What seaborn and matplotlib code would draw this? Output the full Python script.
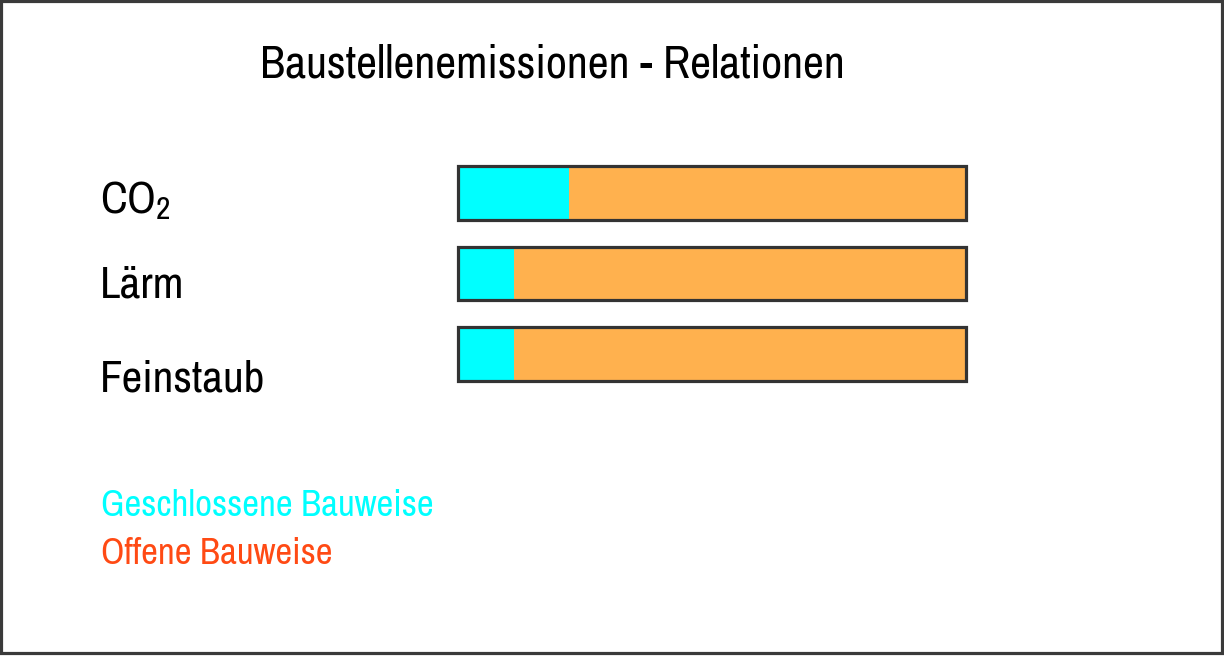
import matplotlib
matplotlib.use("Agg")
import matplotlib.pyplot as plt
from matplotlib.patches import Rectangle
import seaborn as sns
import pandas as pd

# ---- data ----
categories = ["CO2", "Lärm", "Feinstaub"]
label_texts = ["CO$_2$", "Lärm", "Feinstaub"]
geschlossen = [22, 11, 11]   # share of closed construction (%)
gesamt = [100, 100, 100]     # total (closed + open)
title = "Baustellenemissionen - Relationen"
legend_labels = ["Geschlossene Bauweise", "Offene Bauweise"]

# ---- style ----
sns.set_style("white")
FONT = ["Archivo Narrow", "Liberation Sans", "DejaVu Sans"]
plt.rcParams["font.family"] = FONT
plt.rcParams["mathtext.default"] = "regular"

CYAN = "#00FFFF"
ORANGE = "#FFB14E"
OFFEN_TXT = "#FF4A14"
EDGE = "#333333"

df = pd.DataFrame({"cat": categories, "closed": geschlossen, "total": gesamt})

fig = plt.figure(figsize=(12.24, 6.57), dpi=100)
fig.patch.set_facecolor("white")
ax = fig.add_axes([0.3738, 0.3999, 0.4158, 0.3676])

sns.barplot(data=df, x="total", y="cat", orient="h", color=ORANGE,
            saturation=1, width=0.67, linewidth=0, ax=ax)
sns.barplot(data=df, x="closed", y="cat", orient="h", color=CYAN,
            saturation=1, width=0.67, linewidth=0, ax=ax)
sns.barplot(data=df, x="total", y="cat", orient="h", fill=False,
            edgecolor=EDGE, linewidth=2.3, width=0.67, ax=ax)
for p in ax.patches:
    p.set_clip_on(False)

ax.set_xlim(0, 100)
ax.set_ylim(2.5, -0.5)
ax.axis("off")

# title
fig.text(260 / 1224, 1 - 77.7 / 657, title, fontsize=33, color="black",
         ha="left", va="baseline")

# category labels
label_baselines = [213, 298, 392]
for txt, yb in zip(label_texts, label_baselines):
    fig.text(100 / 1224, 1 - yb / 657, txt, fontsize=32.5, color="black",
             ha="left", va="baseline")

# legend texts
fig.text(101 / 1224, 1 - 515.5 / 657, legend_labels[0], fontsize=26.5,
         color=CYAN, ha="left", va="baseline")
fig.text(101 / 1224, 1 - 564.5 / 657, legend_labels[1], fontsize=26.5,
         color=OFFEN_TXT, ha="left", va="baseline")

# frame
W, H = 1224, 657
fig.patches.append(Rectangle((1.4 / W, 1 - 653 / H), (1222.4 - 1.4) / W,
                             (653 - 1.4) / H, transform=fig.transFigure,
                             fill=False, edgecolor="#3a3a3a", linewidth=2.3))

fig.savefig("out.png", dpi=100, facecolor="white")
